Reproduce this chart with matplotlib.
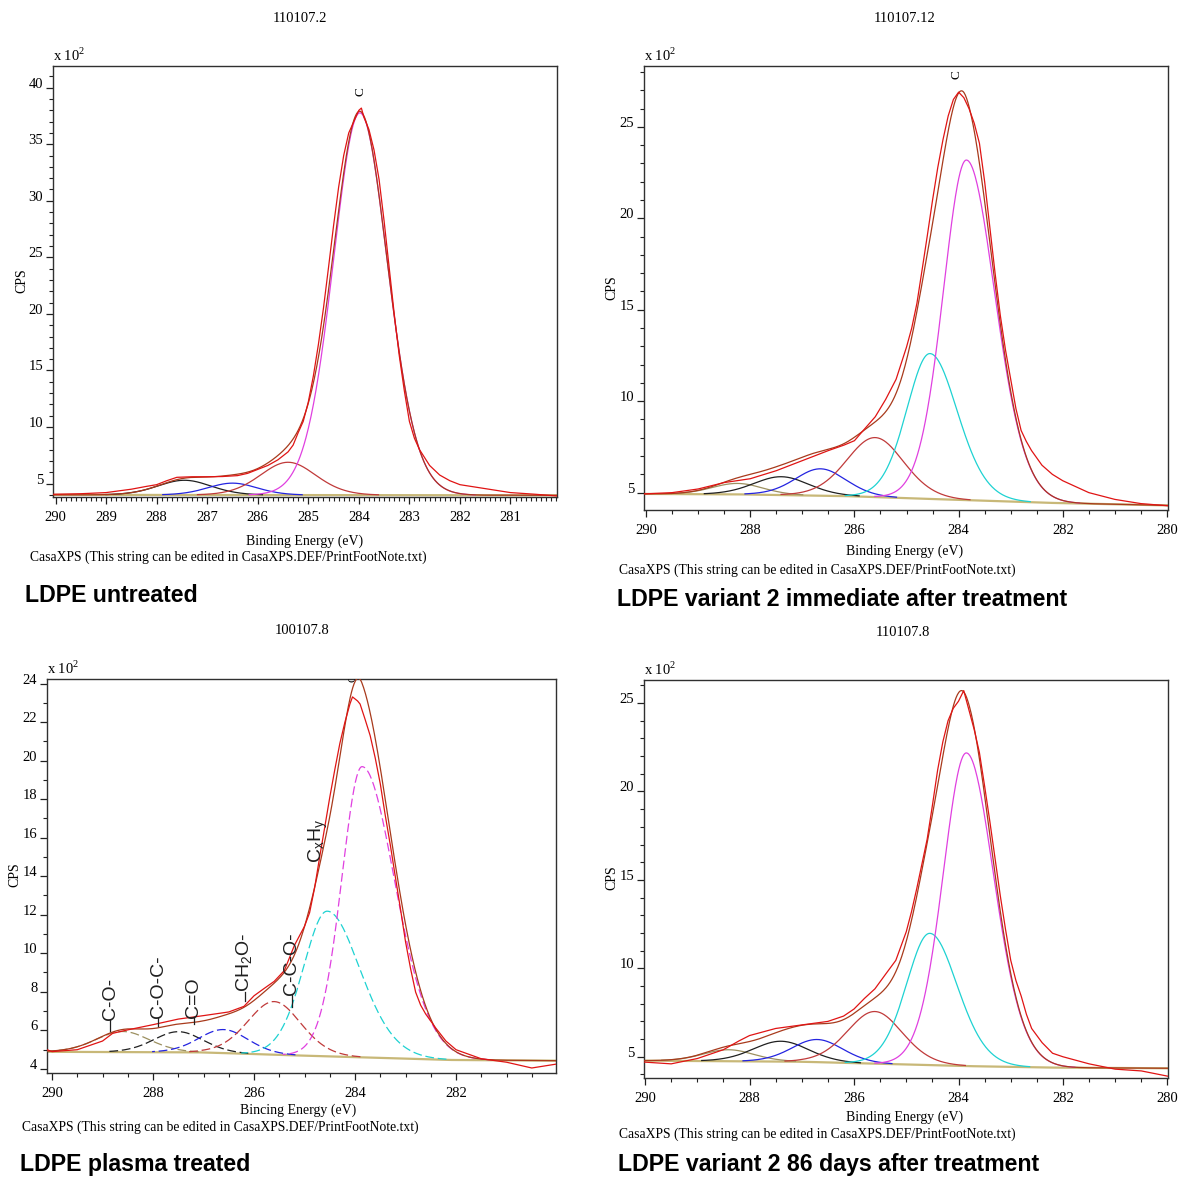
import numpy as np
import matplotlib.pyplot as plt
from matplotlib.ticker import MultipleLocator

plt.rcParams['font.family'] = 'Liberation Serif'
plt.rcParams['mathtext.fontset'] = 'custom'
plt.rcParams['mathtext.rm'] = 'Liberation Serif'
plt.rcParams['mathtext.sf'] = 'Liberation Sans'

W, H = 1181, 1179

# ---------------- data (counts in units of 10^2 CPS) ----------------
# panel 1 : 110107.2, LDPE untreated
p1_be = [290.05, 289.5, 289.0, 288.5, 288.2, 288.0, 287.8, 287.6, 287.3, 287.0, 286.7, 286.4,
         286.2, 286.0, 285.8, 285.6, 285.4, 285.3, 285.2, 285.1, 285.0, 284.9, 284.8, 284.7,
         284.6, 284.5, 284.4, 284.3, 284.2, 284.1, 284.0, 283.95, 283.9, 283.8, 283.7, 283.6,
         283.5, 283.4, 283.3, 283.2, 283.1, 283.0, 282.9, 282.8, 282.7, 282.6, 282.4, 282.2,
         282.0, 281.5, 281.0, 280.5, 280.08]
p1_cps = [4.05, 4.1, 4.2, 4.5, 4.75, 4.9, 5.25, 5.55, 5.6, 5.6, 5.62, 5.7,
          5.9, 6.25, 6.6, 7.1, 7.8, 8.4, 9.5, 10.5, 12.2, 14.5, 17.3, 20.5,
          24.1, 27.8, 31.2, 34.0, 36.0, 37.0, 38.0, 38.2, 37.4, 36.3, 34.5, 31.9,
          28.2, 24.1, 20.0, 16.3, 13.2, 10.5, 9.0, 8.0, 7.3, 6.6, 5.75, 5.25,
          4.9, 4.55, 4.2, 4.05, 3.9]
p1_bg_be = [290.05, 280.08]
p1_bg_cps = [4.0, 3.96]
p1_pos = [287.45, 286.5, 285.4, 283.98]
p1_height = [1.3, 1.05, 2.9, 33.8]
p1_fwhm_hi = [1.3, 1.2, 1.35, 1.3]
p1_fwhm_lo = [1.3, 1.2, 1.35, 1.35]

# panel 2 : 110107.12, LDPE variant 2 immediate after treatment
p2_be = [290.04, 289.5, 289.0, 288.5, 288.0, 287.5, 287.0, 286.5, 286.2, 286.0, 285.8, 285.6,
         285.4, 285.2, 285.0, 284.9, 284.8, 284.7, 284.6, 284.5, 284.4, 284.3, 284.2, 284.1,
         284.0, 283.9, 283.8, 283.7, 283.6, 283.5, 283.4, 283.3, 283.2, 283.1, 283.0, 282.9,
         282.8, 282.7, 282.6, 282.4, 282.2, 282.0, 281.5, 281.0, 280.5, 279.98]
p2_cps = [4.93, 5.0, 5.2, 5.55, 5.76, 6.2, 6.75, 7.3, 7.6, 7.84, 8.5, 9.15,
          10.1, 11.2, 12.96, 14.0, 15.36, 17.2, 19.07, 21.0, 22.78, 24.3, 25.6, 26.5,
          26.9, 26.6, 26.0, 25.2, 24.1, 22.0, 19.5, 17.0, 14.7, 12.8, 11.2, 9.6,
          8.4, 7.8, 7.3, 6.5, 6.0, 5.65, 5.0, 4.63, 4.4, 4.28]
p2_bg_be = [290.04, 288.0, 286.0, 284.0, 282.0, 279.98]
p2_bg_cps = [4.93, 4.9, 4.8, 4.6, 4.42, 4.3]
p2_pos = [288.25, 287.4, 286.65, 285.6, 284.55, 283.85]
p2_height = [0.6, 1.0, 1.47, 3.25, 7.95, 18.6]
p2_fwhm_hi = [1.2, 1.3, 1.2, 1.35, 1.1, 1.1]
p2_fwhm_lo = [1.2, 1.3, 1.2, 1.35, 1.3, 1.35]

# panel 3 : 100107.8, LDPE plasma treated
p3_be = [290.1, 290.0, 289.5, 289.0, 288.8, 288.5, 288.0, 287.5, 287.0, 286.5, 286.2, 286.0,
         285.8, 285.6, 285.4, 285.2, 285.0, 284.9, 284.8, 284.7, 284.6, 284.5, 284.4, 284.3,
         284.2, 284.1, 284.05, 283.95, 283.9, 283.8, 283.7, 283.6, 283.5, 283.4, 283.3, 283.2,
         283.1, 283.0, 282.9, 282.8, 282.7, 282.6, 282.4, 282.2, 282.0, 281.5, 281.0, 280.5,
         280.02]
p3_cps = [4.99, 4.89, 4.99, 5.44, 5.84, 6.02, 6.29, 6.58, 6.76, 6.95, 7.24, 7.79,
          8.17, 8.54, 9.1, 10.41, 11.4, 12.1, 13.4, 15.0, 16.54, 18.1, 19.54, 20.9,
          22.0, 22.95, 23.31, 23.1, 22.94, 22.14, 21.3, 20.14, 18.8, 17.14, 15.6, 13.94,
          12.3, 10.6, 9.2, 7.98, 7.3, 6.84, 6.11, 5.44, 4.99, 4.52, 4.34, 4.04,
          4.24]
p3_bg_be = [290.1, 287.0, 285.5, 284.0, 282.0, 280.02]
p3_bg_cps = [4.88, 4.85, 4.72, 4.6, 4.45, 4.42]
p3_pos = [288.6, 287.5, 286.6, 285.6, 284.55, 283.86]
p3_height = [1.07, 1.07, 1.22, 2.76, 7.54, 15.1]
p3_fwhm_hi = [1.3, 1.2, 1.2, 1.3, 1.16, 1.0]
p3_fwhm_lo = [1.3, 1.2, 1.2, 1.3, 1.6, 1.6]
p3_names = ['C-O-', 'C-O-C-', 'C=O', r'CH$_\mathsf{2}$O-', 'C-C-O-', r'C$_\mathsf{x}$H$_\mathsf{y}$']

# panel 4 : 110107.8, LDPE variant 2 86 days after treatment
p4_be = [290.02, 289.5, 289.0, 288.5, 288.2, 288.0, 287.5, 287.0, 286.5, 286.2, 286.0, 285.8,
         285.6, 285.4, 285.2, 285.0, 284.9, 284.8, 284.7, 284.6, 284.5, 284.4, 284.3, 284.2,
         284.1, 284.0, 283.9, 283.8, 283.7, 283.6, 283.5, 283.4, 283.3, 283.2, 283.1, 283.0,
         282.9, 282.8, 282.7, 282.6, 282.4, 282.2, 282.0, 281.5, 281.0, 280.5, 279.99]
p4_cps = [4.7, 4.6, 4.9, 5.4, 5.9, 6.2, 6.6, 6.8, 7.0, 7.3, 7.7, 8.3,
          8.84, 9.65, 10.45, 12.07, 13.2, 14.5, 15.9, 17.3, 19.2, 21.2, 22.8, 24.0,
          24.7, 25.1, 25.7, 24.6, 23.5, 22.2, 20.3, 18.3, 16.2, 14.1, 12.2, 10.45,
          9.3, 8.43, 7.4, 6.6, 5.8, 5.2, 5.0, 4.6, 4.3, 4.2, 3.9]
p4_bg_be = [290.02, 287.0, 285.5, 283.5, 282.0, 279.99]
p4_bg_cps = [4.78, 4.72, 4.6, 4.45, 4.38, 4.35]
p4_pos = [288.4, 287.4, 286.7, 285.6, 284.55, 283.85]
p4_height = [0.65, 1.15, 1.28, 2.95, 7.45, 17.7]
p4_fwhm_hi = [1.2, 1.3, 1.2, 1.3, 1.1, 1.1]
p4_fwhm_lo = [1.2, 1.3, 1.2, 1.3, 1.3, 1.3]

# ---------------- styles ----------------
RAW = '#e01414'
ENV = '#a83a1c'
BGC = '#c8b878'
COMP6 = ['#9c9060', '#202020', '#2424e0', '#c03a3a', '#1ed2d2', '#e040e0']
COMP4 = ['#202020', '#2424e0', '#c03a3a', '#e040e0']


def gl(x, c, h, f_hi, f_lo, m=0.3):
    # CasaXPS style GL(30) line shape, separate widths on each side of the peak
    f = np.where(x >= c, f_hi, f_lo)
    u = (x - c) / f
    return h * np.exp(-4 * np.log(2) * (1 - m) * u ** 2) / (1 + 4 * m * u ** 2)


def fx(px):
    return px / W


def fy(py):
    return 1 - py / H


def make_axes(l, r, t, b):
    return fig.add_axes([fx(l), fy(b), fx(r - l), (b - t) / H])


def draw_panel(ax, be, cps, bg_be, bg_cps, pos, height, f_hi, f_lo, colors, xlim, ylim,
               xmaj, xmin, ymaj, dashed=False):
    grid = np.linspace(xlim[1], xlim[0], 800)
    bg = np.interp(grid, bg_be[::-1], bg_cps[::-1])
    env = bg.copy()
    ls = (0, (7, 3)) if dashed else '-'
    for c, h, fh, fl, col in zip(pos, height, f_hi, f_lo, colors):
        comp = gl(grid, c, h, fh, fl)
        env += comp
        m = comp > 0.03
        ax.plot(grid[m], bg[m] + comp[m], color=col, lw=0.9, ls=ls, zorder=3)
    ax.plot(grid, bg, color=BGC, lw=1.6, zorder=2)
    ax.plot(grid, env, color=ENV, lw=0.9, zorder=4)
    ax.plot(be, cps, color=RAW, lw=0.9, zorder=5)

    ax.set_xlim(xlim)
    ax.set_ylim(ylim)
    ax.xaxis.set_major_locator(MultipleLocator(xmaj))
    ax.xaxis.set_minor_locator(MultipleLocator(xmin))
    ax.yaxis.set_major_locator(MultipleLocator(ymaj))
    ax.yaxis.set_minor_locator(MultipleLocator(1))
    ax.xaxis.set_major_formatter(lambda v, p: '%d' % round(v))
    ax.yaxis.set_major_formatter(lambda v, p: '%d' % round(v))
    ax.tick_params(which='major', direction='out', length=5, width=0.9, labelsize=10.5,
                   color='#202020')
    ax.tick_params(which='minor', direction='out', length=3, width=0.8, color='#202020')
    ax.tick_params(axis='x', which='major', pad=5)
    ax.tick_params(axis='y', which='major', pad=2)
    for lab in ax.get_yticklabels():
        lab.set_verticalalignment('baseline')
    for s in ax.spines.values():
        s.set_color('#303030')
        s.set_linewidth(1.0)
    ax.text(0, 1.004, r'x 10$^{2}$', transform=ax.transAxes, ha='left', va='bottom',
            fontsize=10.5)


fig = plt.figure(figsize=(W / 100, H / 100), dpi=100)

ax1 = make_axes(53, 557, 66, 497)
draw_panel(ax1, p1_be, p1_cps, p1_bg_be, p1_bg_cps, p1_pos, p1_height, p1_fwhm_hi, p1_fwhm_lo,
           COMP4, (290.05, 280.08), (3.81, 41.92), 1, 0.1, 5)
ax1.text(283.97, 39.7, 'C', rotation=90, ha='center', va='center', fontsize=9.5)

ax2 = make_axes(644, 1168, 66, 510)
draw_panel(ax2, p2_be, p2_cps, p2_bg_be, p2_bg_cps, p2_pos, p2_height, p2_fwhm_hi, p2_fwhm_lo,
           COMP6, (290.04, 279.98), (4.05, 28.33), 2, 0.5, 5)
ax2.text(284.04, 27.86, 'C', rotation=90, ha='center', va='center', fontsize=9.5)

ax3 = make_axes(47, 556, 679, 1073)
draw_panel(ax3, p3_be, p3_cps, p3_bg_be, p3_bg_cps, p3_pos, p3_height, p3_fwhm_hi, p3_fwhm_lo,
           COMP6, (290.1, 280.02), (3.78, 24.24), 2, 0.5, 2, dashed=True)
ax3.text(284.05, 24.3, 'C', rotation=90, ha='center', va='center', fontsize=8, clip_on=True)
# peak labels: foot of each label and bottom of its leader line
lab_be = [288.85, 287.9, 287.19, 286.18, 285.25, 284.73]
lab_y = [6.55, 6.65, 6.65, 8.0, 7.85, 14.7]
lead_y = [5.95, 6.2, 6.3, 7.5, 7.2, 14.7]
for e, yb, yl, name in zip(lab_be, lab_y, lead_y, p3_names):
    ax3.text(e, yb, name, rotation=90, ha='center', va='bottom', fontsize=14,
             family='Liberation Sans', color='#202020', zorder=6)
    if yl < yb:
        ax3.plot([e, e], [yl, yb], color='#202020', lw=0.9, zorder=6)

ax4 = make_axes(644, 1168, 680, 1078)
draw_panel(ax4, p4_be, p4_cps, p4_bg_be, p4_bg_cps, p4_pos, p4_height, p4_fwhm_hi, p4_fwhm_lo,
           COMP6, (290.02, 279.99), (3.8, 26.3), 2, 0.5, 5)

# ---------------- surrounding texts ----------------
titles = ['110107.2', '110107.12', '100107.8', '110107.8']
title_xy = [(300, 18), (905, 18), (302, 630), (903, 632)]
xlabels = ['Binding Energy (eV)', 'Binding Energy (eV)', 'Bincing Energy (eV)', 'Binding Energy (eV)']
xlabel_xy = [(305, 541), (905, 551), (298, 1110), (905, 1117)]
ylabel_xy = [(22, 281), (612, 288), (15, 875), (612, 878)]
foot_xy = [(30, 557), (619, 570), (22, 1127), (619, 1134)]
captions = ['LDPE untreated', 'LDPE variant 2 immediate after treatment',
            'LDPE plasma treated', 'LDPE variant 2 86 days after treatment']
caption_xy = [(25, 596), (617, 600), (20, 1165), (618, 1165)]
foot = 'CasaXPS (This string can be edited in CasaXPS.DEF/PrintFootNote.txt)'

for i in range(4):
    fig.text(fx(title_xy[i][0]), fy(title_xy[i][1]), titles[i], ha='center', va='center',
             fontsize=10.5)
    fig.text(fx(xlabel_xy[i][0]), fy(xlabel_xy[i][1]), xlabels[i], ha='center', va='center',
             fontsize=10)
    fig.text(fx(ylabel_xy[i][0]), fy(ylabel_xy[i][1]), 'CPS', ha='center', va='center',
             rotation=90, fontsize=10)
    fig.text(fx(foot_xy[i][0]), fy(foot_xy[i][1]), foot, ha='left', va='center', fontsize=9.8)
    fig.text(fx(caption_xy[i][0]), fy(caption_xy[i][1]), captions[i], ha='left', va='center',
             fontsize=16.7, fontweight='bold', family='Liberation Sans')

fig.savefig('out.png', dpi=100)
